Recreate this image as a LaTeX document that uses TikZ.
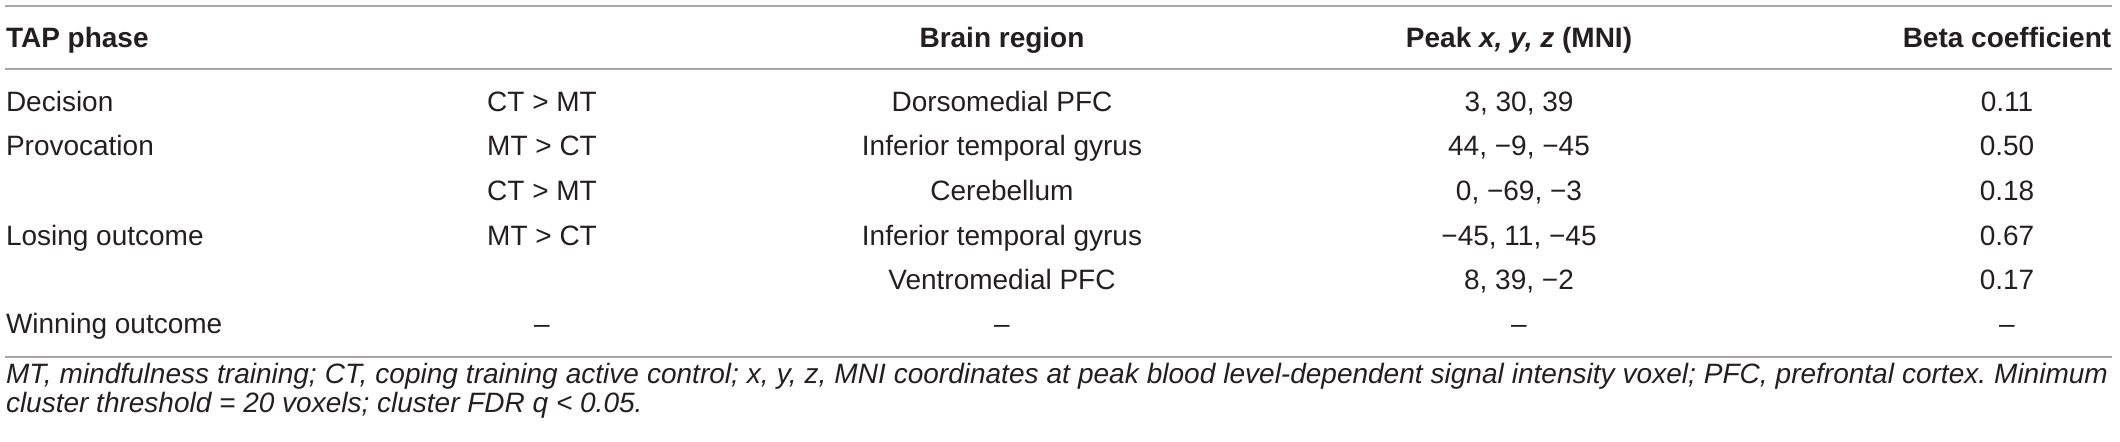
\documentclass[tikz,border=0pt]{standalone}
\usepackage{fontspec}
\setmainfont{Liberation Sans}
\definecolor{ink}{HTML}{231F20}
\definecolor{rulegray}{HTML}{A6A6A6}

\begin{document}
\frenchspacing
\begin{tikzpicture}[x=0.5pt,y=-0.5pt,
    every node/.style={inner sep=0pt, outer sep=0pt, text=ink},
    cell/.style={anchor=base, font=\fontsize{14}{17}\selectfont},
    lcell/.style={cell, anchor=base west},
    head/.style={anchor=base, font=\fontsize{14}{17}\selectfont\bfseries},
    note/.style={anchor=base west, font=\fontsize{14}{17}\selectfont\itshape},
    rule/.style={draw=rulegray, line width=1pt}]
  \useasboundingbox (0,0) rectangle (2120,441);

  % rules
  \coordinate (topL) at (5,6);     \coordinate (topR) at (2112,6);
  \coordinate (midL) at (5,69);    \coordinate (midR) at (2112,69);
  \coordinate (botL) at (5,357);   \coordinate (botR) at (2112,357);
  \draw[rule] (topL) -- (topR);
  \draw[rule] (midL) -- (midR);
  \draw[rule] (botL) -- (botR);

  % header
  \node[head, anchor=base west] (hPhase) at (6,47) {TAP phase};
  \node[head] (hRegion) at (1002,47) {Brain region};
  \node[head] (hPeak) at (1519,47) {Peak \textit{x, y, z} (MNI)};
  \node[head] (hBeta) at (2007,47) {Beta coefficient};

  % Decision
  \node[lcell] (decision) at (6,111) {Decision};
  \node[cell] (cmpDec) at (542,111) {CT > MT};
  \node[cell] (regDec) at (1002,111) {Dorsomedial PFC};
  \node[cell] (peakDec) at (1519,111) {3, 30, 39};
  \node[cell] (betaDec) at (2007,111) {0.11};

  % Provocation
  \node[lcell] (provocation) at (6,155) {Provocation};
  \node[cell] (cmpProA) at (542,155) {MT > CT};
  \node[cell] (regProA) at (1002,155) {Inferior temporal gyrus};
  \node[cell] (peakProA) at (1519,155) {44, −9, −45};
  \node[cell] (betaProA) at (2007,155) {0.50};
  \node[cell] (cmpProB) at (542,200) {CT > MT};
  \node[cell] (regProB) at (1002,200) {Cerebellum};
  \node[cell] (peakProB) at (1519,200) {0, −69, −3};
  \node[cell] (betaProB) at (2007,200) {0.18};

  % Losing outcome
  \node[lcell] (losing) at (6,245) {Losing outcome};
  \node[cell] (cmpLosA) at (542,245) {MT > CT};
  \node[cell] (regLosA) at (1002,245) {Inferior temporal gyrus};
  \node[cell] (peakLosA) at (1519,245) {−45, 11, −45};
  \node[cell] (betaLosA) at (2007,245) {0.67};
  \node[cell] (regLosB) at (1002,289) {Ventromedial PFC};
  \node[cell] (peakLosB) at (1519,289) {8, 39, −2};
  \node[cell] (betaLosB) at (2007,289) {0.17};

  % Winning outcome
  \node[lcell] (winning) at (6,333) {Winning outcome};
  \node[cell] (cmpWin) at (542,333) {–};
  \node[cell] (regWin) at (1002,333) {–};
  \node[cell] (peakWin) at (1519,333) {–};
  \node[cell] (betaWin) at (2007,333) {–};

  % footnote
  \node[note] (noteA) at (6,383) {\makebox[1051pt][s]{MT, mindfulness training; CT, coping training active control; x, y, z, MNI coordinates at peak blood level-dependent signal intensity voxel; PFC, prefrontal cortex. Minimum}};
  \node[note] (noteB) at (6,412) {cluster threshold = 20 voxels; cluster FDR q < 0.05.};
\end{tikzpicture}
\end{document}
